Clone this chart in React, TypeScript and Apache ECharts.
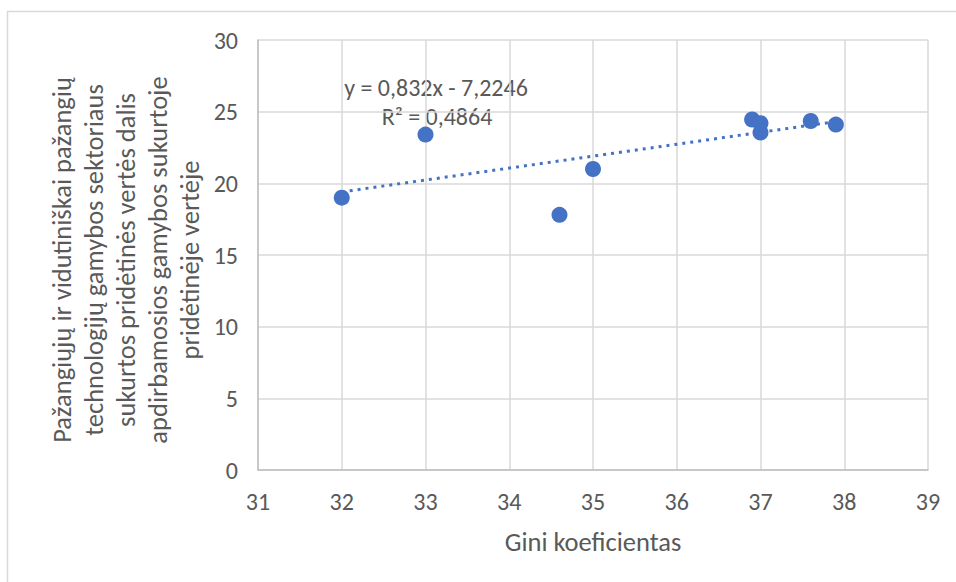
import React, { useEffect, useRef } from "react";
import * as echarts from "echarts";

const giniX = [32, 33, 34.6, 35, 36.9, 37.0, 37.0, 37.6, 37.9];
const shareY = [19.0, 23.4, 17.8, 21.0, 24.45, 24.2, 23.55, 24.35, 24.1];
const trendSlope = 0.832;
const trendIntercept = -7.2246;
const trendX = [32, 37.9];
const xTicks = [31, 32, 33, 34, 35, 36, 37, 38, 39];
const yTicks = [0, 5, 10, 15, 20, 25, 30];
const yTitleLines = [
  "Pažangiųjų ir vidutiniškai pažangių",
  "technologijų gamybos sektoriaus",
  "sukurtos pridėtinės vertės dalis",
  "apdirbamosios gamybos sukurtoje",
  "pridėtinėje vertėje",
];
const xTitle = "Gini koeficientas";
const eqLine1 = "y = 0,832x - 7,2246";
const eqLine2 = "R² = 0,4864";

const FONT = "Carlito, 'Open Sans', sans-serif";
const TXT = "#595959";
const BLUE = "#4472C4";

export default function App() {
  const ref = useRef<HTMLDivElement>(null);
  useEffect(() => {
    document.body.style.margin = "0";
    if (!ref.current) return;
    const chart = echarts.init(ref.current, null, { renderer: "svg" });
    const points = giniX.map((x, i) => [x, shareY[i]]);
    const trend = trendX.map((x) => [x, trendSlope * x + trendIntercept]);
    chart.setOption({
      animation: false,
      textStyle: { fontFamily: FONT },
      grid: { left: 258, right: 28, top: 40, bottom: 112, containLabel: false },
      xAxis: {
        type: "value",
        min: xTicks[0],
        max: xTicks[xTicks.length - 1],
        interval: 1,
        name: xTitle,
        nameLocation: "middle",
        nameGap: 58,
        nameTextStyle: { color: TXT, fontSize: 26.5, fontFamily: FONT },
        axisLine: { show: true, lineStyle: { color: "#bfbfbf", width: 1.5 } },
        axisTick: { show: false },
        axisLabel: { color: TXT, fontSize: 24, margin: 19, fontFamily: FONT },
        splitLine: { show: true, lineStyle: { color: "#d9d9d9", width: 1.5 } },
      },
      yAxis: {
        type: "value",
        min: yTicks[0],
        max: yTicks[yTicks.length - 1],
        interval: 5,
        axisLine: { show: true, lineStyle: { color: "#bfbfbf", width: 1.5 } },
        axisTick: { show: false },
        axisLabel: { color: TXT, fontSize: 24, margin: 20, fontFamily: FONT },
        splitLine: { show: true, lineStyle: { color: "#d9d9d9", width: 1.5 } },
      },
      graphic: [
        {
          type: "rect",
          silent: true,
          shape: { x: 7.5, y: 11.5, width: 2000, height: 2000 },
          style: { fill: "none", stroke: "#d9d9d9", lineWidth: 1.5 },
        },
        {
          type: "text",
          x: 126,
          y: 260,
          rotation: Math.PI / 2,
          style: {
            text: yTitleLines.join("\n"),
            fill: TXT,
            fontSize: 26.5,
            fontFamily: FONT,
            lineHeight: 32,
            align: "center",
            verticalAlign: "middle",
          },
        },
        {
          type: "text",
          x: 436,
          y: 87,
          style: {
            text: eqLine1,
            fill: TXT,
            fontSize: 24,
            fontFamily: FONT,
            align: "center",
            verticalAlign: "middle",
          },
        },
        {
          type: "text",
          x: 437,
          y: 116,
          style: {
            text: eqLine2,
            fill: TXT,
            fontSize: 24,
            fontFamily: FONT,
            align: "center",
            verticalAlign: "middle",
          },
        },
      ],
      series: [
        {
          type: "line",
          data: trend,
          symbol: "none",
          lineStyle: { color: BLUE, width: 3, type: [3, 5] },
          z: 1,
        },
        {
          type: "scatter",
          data: points,
          symbol: "circle",
          symbolSize: 16,
          itemStyle: { color: BLUE, opacity: 1 },
          z: 2,
        },
      ],
    });
    return () => chart.dispose();
  }, []);
  return <div ref={ref} style={{ width: 956, height: 582 }} />;
}
